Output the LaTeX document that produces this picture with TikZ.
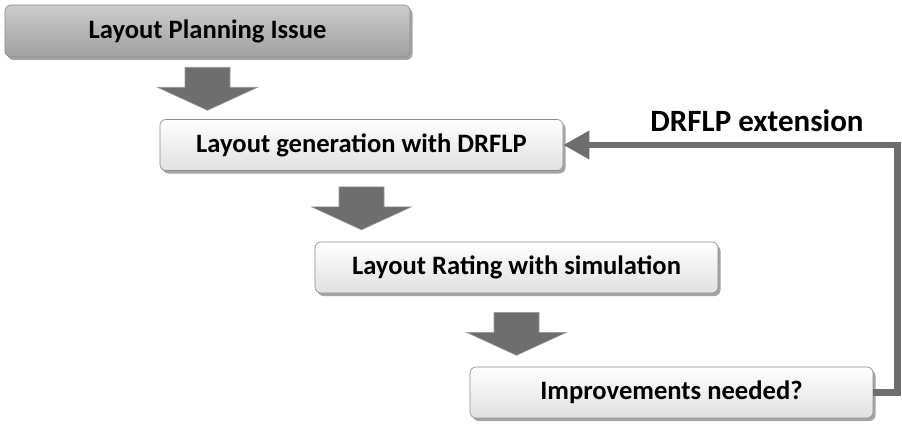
\documentclass[tikz,border=0pt]{standalone}
\usepackage{fontspec}
\setmainfont{Carlito}
\usetikzlibrary{shadows,arrows.meta,calc}
\definecolor{arrowgray}{HTML}{6E6E6E}
\definecolor{rimgray}{HTML}{9A9A9A}
\begin{document}
\begin{tikzpicture}[x=1pt,y=1pt,
  box/.style={rounded corners=6pt, draw=black!45, line width=0.6pt,
    minimum width=403pt, minimum height=51pt, inner sep=0pt,
    font=\fontsize{26.6}{30}\selectfont\bfseries,
    drop shadow={shadow xshift=2.5pt, shadow yshift=-3pt, opacity=0.55, fill=black!65}},
  lightbox/.style={box, top color=white, bottom color=black!12},
  darkbox/.style={box, top color=black!20, bottom color=black!37},
  blockarrow/.style={fill=arrowgray, draw=rimgray, line width=0.6pt},
  feedback/.style={draw=arrowgray, line width=6.5pt,
    -{Triangle[length=26pt,width=27pt]}},
  lbl/.style={font=\fontsize{31}{36}\selectfont\bfseries, inner sep=0pt}
]
\useasboundingbox (0,0) rectangle (902,424);

\node[darkbox, minimum width=405pt, minimum height=52pt] (b1) at (207.5,393) {Layout Planning Issue};
\node[lightbox] (b2) at (361.5,279) {Layout generation with DRFLP};
\node[lightbox] (b3) at (516.5,156.5) {Layout Rating with simulation};
\node[lightbox] (b4) at (671.5,31.5) {Improvements needed?};

\coordinate (a1) at ($(b1.south)+(0,-10)$);
\coordinate (a2) at ($(b2.south)+(0,-16)$);
\coordinate (a3) at ($(b3.south)+(0,-19)$);
\foreach \a in {a1,a2,a3}{
  \draw[blockarrow] ($(\a)+(-22.5,0)$) -- ++(45,0) -- ++(0,-20) -- ++(27.5,0)
    -- ($(\a)+(0,-43)$) -- ($(\a)+(-50,-20)$) -- ++(27.5,0) -- cycle;
}

\draw[feedback] (b4.east) -- ++(24,0) |- (b2.east);
\node[lbl] (ext) at (757,303) {DRFLP extension};
\end{tikzpicture}
\end{document}
